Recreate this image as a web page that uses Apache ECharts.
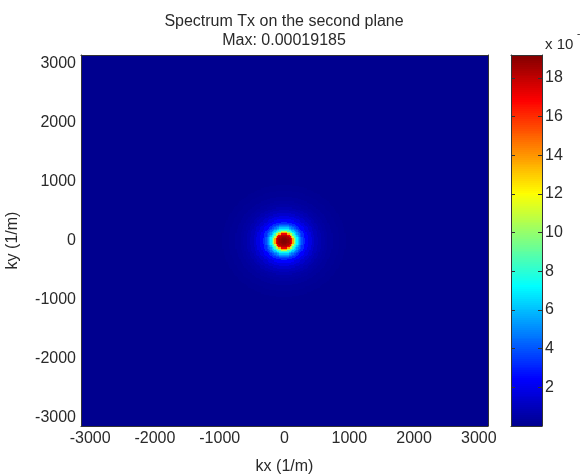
<!DOCTYPE html>
<html>
<head>
<meta charset="utf-8">
<script src="https://cdn.jsdelivr.net/npm/echarts@6/dist/echarts.min.js"></script>
<style>
  html, body { margin: 0; padding: 0; background: #fff; }
  #chart { width: 580px; height: 474px; }
</style>
</head>
<body>
<div id="chart"></div>
<script>
// axis range of kx / ky (1/m) and tick labels
var kMax = 3141.6;
var kTicks = [-3000, -2000, -1000, 0, 1000, 2000, 3000];
var cellStep = 20;

// colorbar (x 10^-5)
var cbMax = 19.185;
var cbTicks = [2, 4, 6, 8, 10, 12, 14, 16, 18];

// radial profile of the spot (radius in 1/m, value x 10^-5)
var radialK = [0, 20, 40, 60, 80, 100, 120, 140, 160, 180, 200, 220, 240, 260, 280, 300,
  350, 400, 450, 500, 550, 600, 650, 700, 800, 900, 1000];
var radialVal = [19.185, 19.1, 19.0, 18.8, 18.5, 18.1, 17.1, 13.6, 10.6, 8.4, 7.1, 6.1, 5.2, 4.5, 3.8, 3.2,
  2.4, 1.8, 1.3, 0.95, 0.7, 0.5, 0.38, 0.28, 0.16, 0.08, 0.0];

var jet = ['#00008F', '#0000FF', '#0080FF', '#00FFFF', '#80FF80', '#FFFF00', '#FF8000', '#FF0000', '#800000'];
var textColor = '#2a2a2a';
var font = 'Liberation Sans, Arial, sans-serif';

function profileAt(r) {
  var best = 0;
  for (var i = 1; i < radialK.length; i++) {
    if (Math.abs(radialK[i] - r) < Math.abs(radialK[best] - r)) best = i;
  }
  return radialVal[best];
}

// cells centred on multiples of cellStep, covering the whole axis range
var nCells = 315;
var cells = [];
for (var i = 0; i < nCells; i++) {
  var kx = -3140 + i * cellStep;
  for (var j = 0; j < nCells; j++) {
    var ky = -3140 + j * cellStep;
    cells.push([kx, ky, profileAt(Math.sqrt(kx * kx + ky * ky))]);
  }
}

var cbLevels = [];
for (var v = 0; v < cbMax; v += 0.1) cbLevels.push([0.5, v, v]);

var chart = echarts.init(document.getElementById('chart'), null, { renderer: 'canvas' });

function frameAxis(idx, pos) {
  return {
    type: 'value', gridIndex: idx, position: pos, min: 0, max: 1, z: 5,
    axisLine: { show: true, onZero: false, lineStyle: { color: '#333', width: 1 } },
    axisTick: { show: false }, axisLabel: { show: false }, splitLine: { show: false }
  };
}

function plain(v) { return String(v); }

chart.setOption({
  animation: false,
  backgroundColor: '#fff',
  title: {
    text: 'Spectrum Tx on the second plane\nMax: 0.00019185',
    left: 284, top: 12, textAlign: 'center', padding: 0,
    textStyle: { fontFamily: font, fontSize: 16, fontWeight: 'normal', color: textColor, lineHeight: 19 }
  },
  grid: [
    { left: 81, top: 55, width: 407, height: 371, outerBoundsMode: 'none', containLabel: false },
    { left: 511, top: 55, width: 31, height: 371, outerBoundsMode: 'none', containLabel: false }
  ],
  xAxis: [
    {
      type: 'value', gridIndex: 0, min: -kMax, max: kMax, z: 5,
      name: 'kx (1/m)', nameLocation: 'middle', nameGap: 33,
      nameTextStyle: { fontFamily: font, fontSize: 16, color: textColor },
      axisLine: { show: true, onZero: false, lineStyle: { color: '#333' } },
      axisTick: { show: false },
      axisLabel: { customValues: kTicks, formatter: plain, margin: 5, fontFamily: font, fontSize: 16, color: textColor },
      splitLine: { show: false }
    },
    {
      type: 'value', gridIndex: 0, position: 'top', min: -kMax, max: kMax, z: 5,
      axisLine: { show: true, onZero: false, lineStyle: { color: '#333' } },
      axisTick: { show: false }, axisLabel: { show: false }, splitLine: { show: false }
    },
    frameAxis(1, 'bottom'),
    frameAxis(1, 'top')
  ],
  yAxis: [
    {
      type: 'value', gridIndex: 0, min: -kMax, max: kMax, z: 5,
      name: 'ky (1/m)', nameLocation: 'middle', nameGap: 60, nameRotate: 90,
      nameTextStyle: { fontFamily: font, fontSize: 16, color: textColor },
      axisLine: { show: true, onZero: false, lineStyle: { color: '#333' } },
      axisTick: { show: false },
      axisLabel: { customValues: kTicks, formatter: plain, margin: 5, fontFamily: font, fontSize: 16, color: textColor },
      splitLine: { show: false }
    },
    {
      type: 'value', gridIndex: 0, position: 'right', min: -kMax, max: kMax, z: 5,
      axisLine: { show: true, onZero: false, lineStyle: { color: '#333' } },
      axisTick: { show: false }, axisLabel: { show: false }, splitLine: { show: false }
    },
    {
      type: 'value', gridIndex: 1, position: 'right', min: 0, max: cbMax, z: 5,
      name: 'x 10', nameLocation: 'end', nameGap: 3,
      nameTextStyle: { fontFamily: font, fontSize: 15, color: textColor, align: 'left', padding: [0, 0, 0, 3] },
      axisLine: { show: true, onZero: false, lineStyle: { color: '#333' } },
      axisTick: { show: true, inside: true, length: 4, customValues: cbTicks, lineStyle: { color: '#333' } },
      axisLabel: { customValues: cbTicks, formatter: plain, margin: 3, fontFamily: font, fontSize: 16, color: textColor },
      splitLine: { show: false }
    },
    {
      type: 'value', gridIndex: 1, position: 'left', min: 0, max: cbMax, z: 5,
      axisLine: { show: true, onZero: false, lineStyle: { color: '#333' } },
      axisTick: { show: true, inside: true, length: 4, customValues: cbTicks, lineStyle: { color: '#333' } },
      axisLabel: { show: false }, splitLine: { show: false }
    }
  ],
  visualMap: {
    show: false, type: 'continuous', min: 0, max: cbMax, dimension: 2,
    seriesIndex: [0, 1], inRange: { color: jet }
  },
  graphic: [{
    type: 'text', left: 577, top: 29,
    style: { text: '-5', fontFamily: font, fontSize: 10, fill: textColor }
  }],
  series: [
    {
      type: 'custom', xAxisIndex: 0, yAxisIndex: 0, clip: true, progressive: 0,
      data: cells,
      renderItem: function (params, api) {
        var h = cellStep / 2;
        var p0 = api.coord([api.value(0) - h, api.value(1) + h]);
        var p1 = api.coord([api.value(0) + h, api.value(1) - h]);
        var x0 = Math.floor(p0[0]), y0 = Math.floor(p0[1]);
        var x1 = Math.ceil(p1[0]), y1 = Math.ceil(p1[1]);
        return {
          type: 'rect',
          shape: { x: x0, y: y0, width: x1 - x0, height: y1 - y0 },
          style: { fill: api.visual('color'), stroke: null }
        };
      }
    },
    {
      type: 'custom', xAxisIndex: 2, yAxisIndex: 2, clip: true, progressive: 0,
      data: cbLevels,
      renderItem: function (params, api) {
        var p0 = api.coord([0, api.value(1) + 0.1]);
        var p1 = api.coord([1, api.value(1)]);
        var y0 = Math.floor(p0[1]), y1 = Math.ceil(p1[1]);
        return {
          type: 'rect',
          shape: { x: p0[0], y: y0, width: p1[0] - p0[0], height: y1 - y0 },
          style: { fill: api.visual('color'), stroke: null }
        };
      }
    }
  ]
});
</script>
</body>
</html>
